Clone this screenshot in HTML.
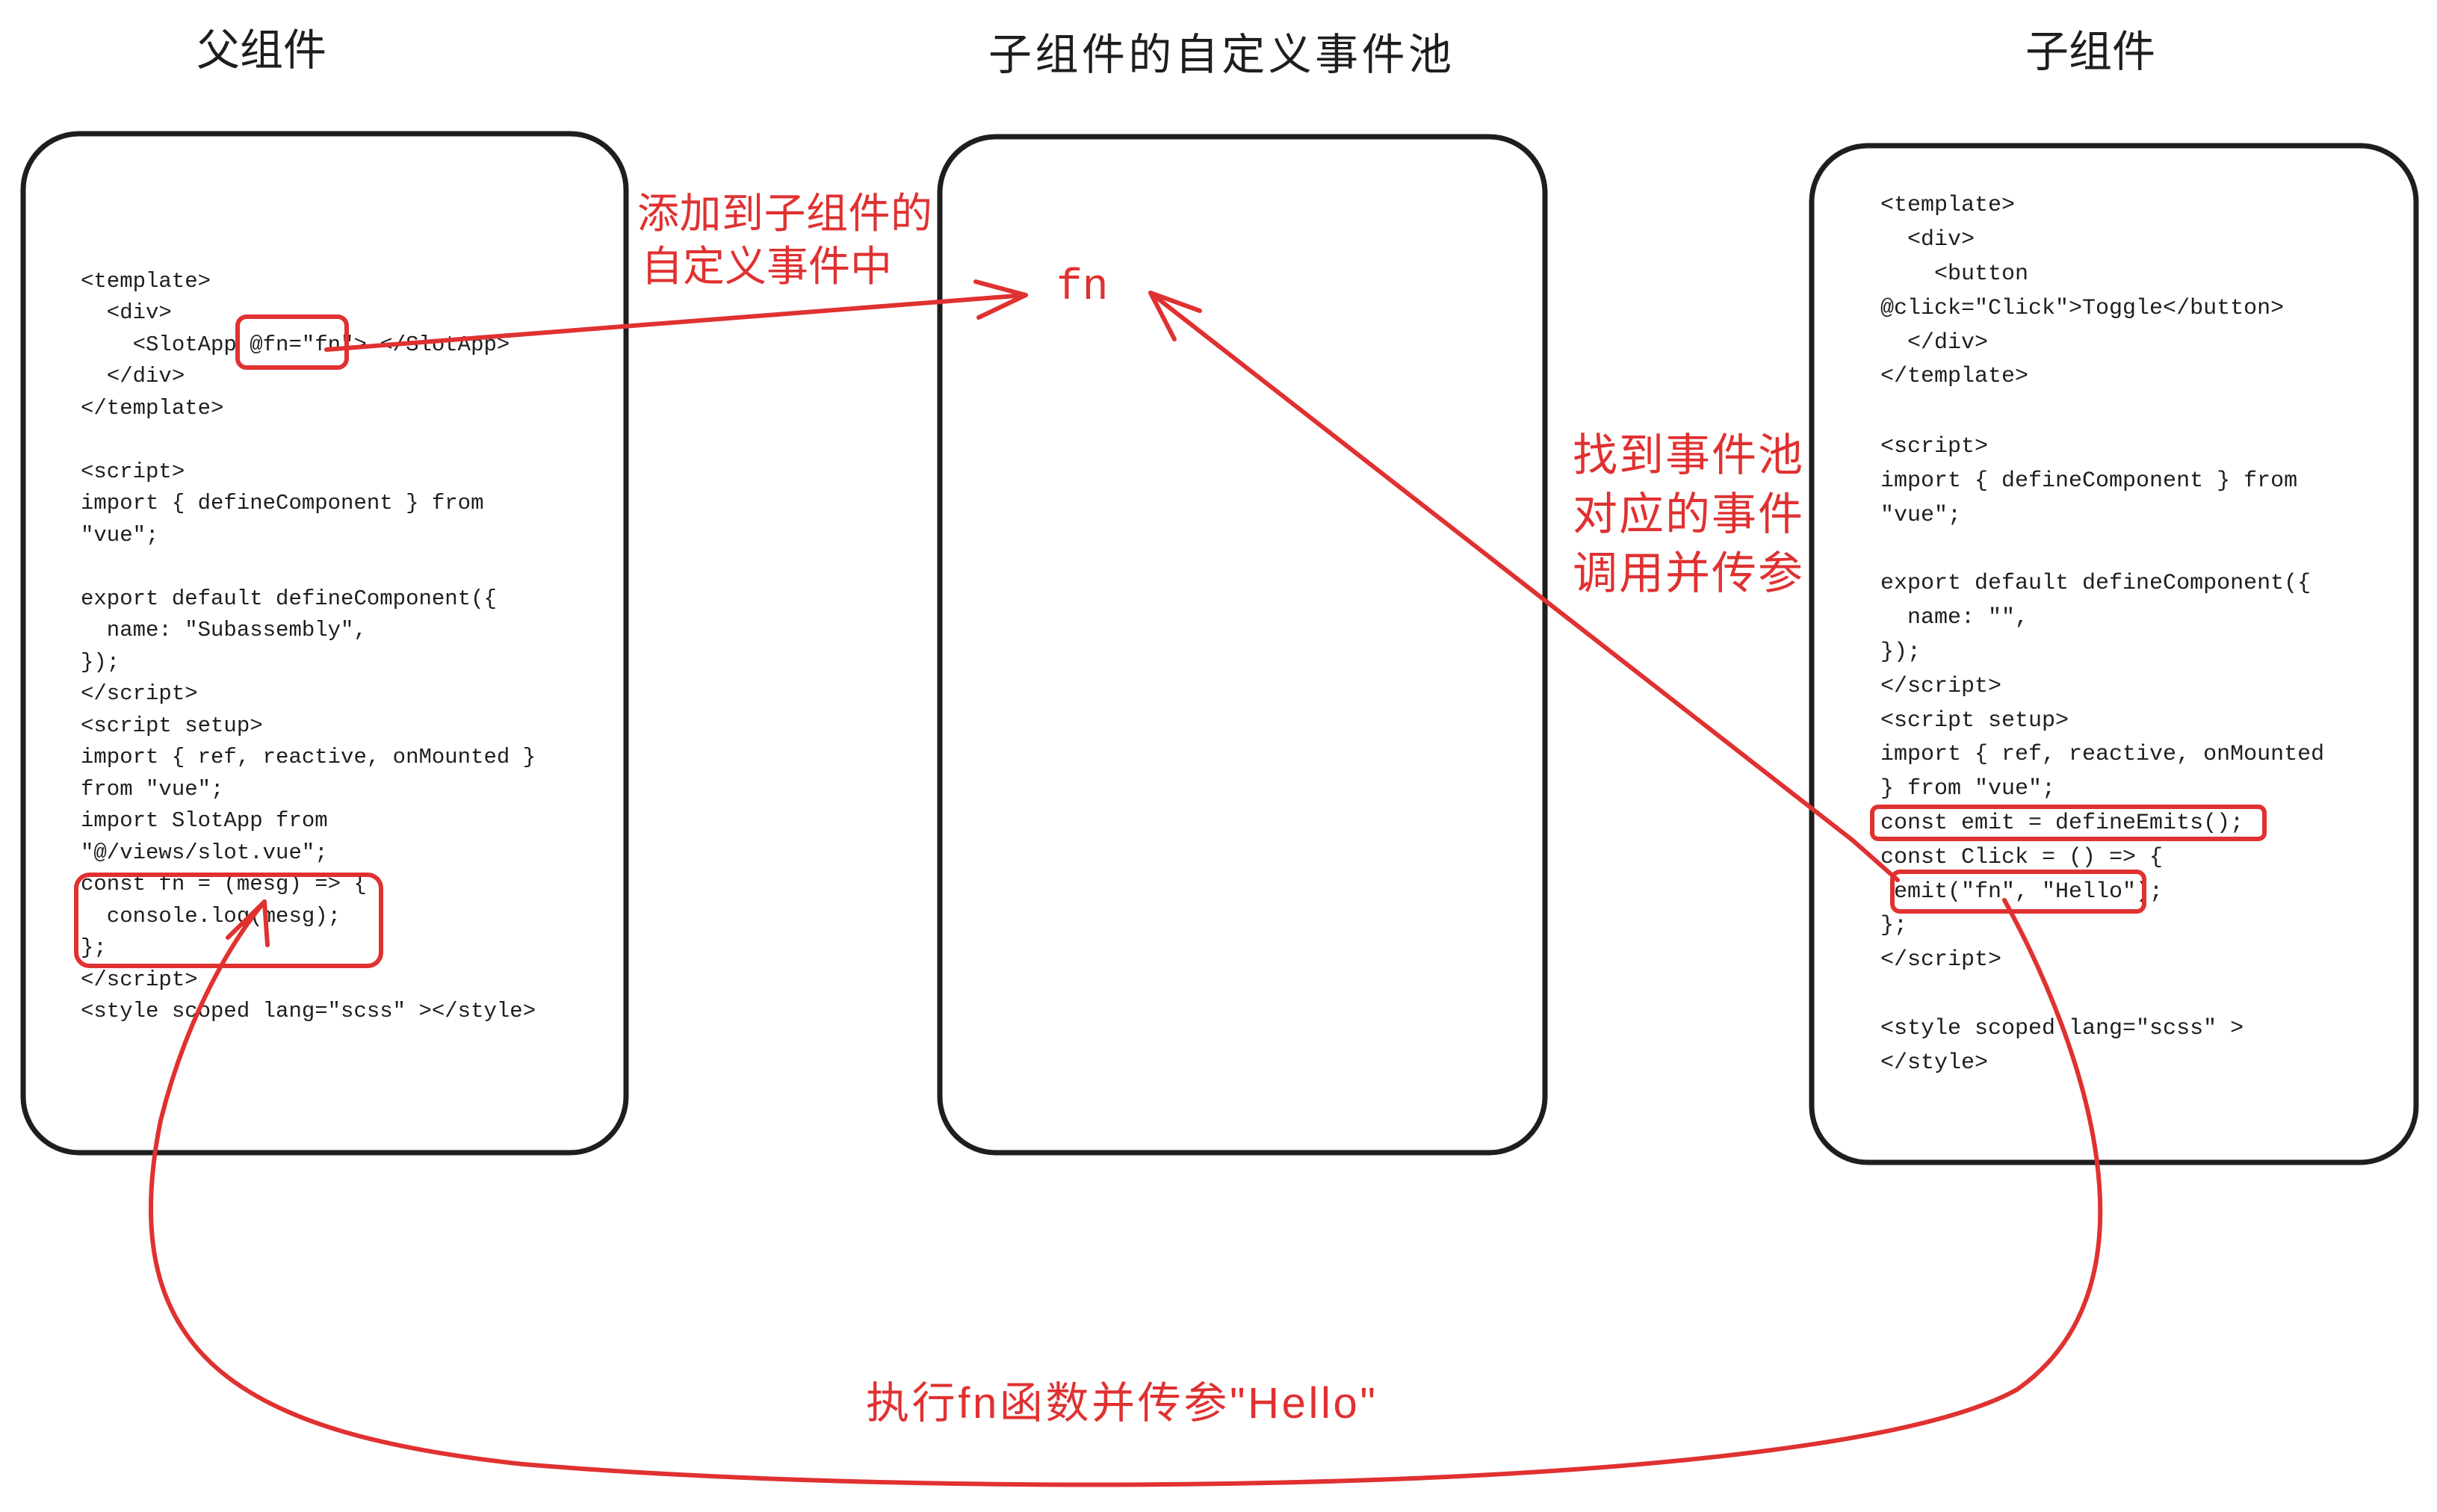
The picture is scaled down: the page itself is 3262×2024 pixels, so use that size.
<!DOCTYPE html>
<html><head><meta charset="utf-8"><style>
html,body{margin:0;padding:0;background:#fff;}
svg{display:block;}
.code{font-family:"Liberation Mono",monospace;fill:#1e1e1e;}
.cj{font-family:"Liberation Sans","Noto Sans CJK SC",sans-serif;}
</style></head><body>
<svg width="3262" height="2024" viewBox="0 0 3262 2024" xmlns="http://www.w3.org/2000/svg">
<rect width="3262" height="2024" fill="#fff"/>
<g class="cj" font-size="58" fill="#1e1e1e" text-anchor="middle">
<text x="350" y="87">父组件</text>
<text x="1633" y="93" textLength="620">子组件的自定义事件池</text>
<text x="2798" y="89">子组件</text>
</g>
<g fill="none" stroke="#1e1e1e" stroke-width="7">
<rect x="31" y="179" width="807" height="1364" rx="75"/>
<rect x="1258" y="183" width="810" height="1360" rx="75"/>
<rect x="2425" y="195" width="809" height="1361" rx="75"/>
</g>
<g class="code" font-size="29">
<text x="108" y="384">&lt;template&gt;</text>
<text x="108" y="426">&#160;&#160;&lt;div&gt;</text>
<text x="108" y="469">&#160;&#160;&#160;&#160;&lt;SlotApp @fn="fn"&gt; &lt;/SlotApp&gt;</text>
<text x="108" y="511">&#160;&#160;&lt;/div&gt;</text>
<text x="108" y="554">&lt;/template&gt;</text>
<text x="108" y="639">&lt;script&gt;</text>
<text x="108" y="681">import { defineComponent } from</text>
<text x="108" y="724">"vue";</text>
<text x="108" y="809">export default defineComponent({</text>
<text x="108" y="851">&#160;&#160;name: "Subassembly",</text>
<text x="108" y="894">});</text>
<text x="108" y="936">&lt;/script&gt;</text>
<text x="108" y="979">&lt;script setup&gt;</text>
<text x="108" y="1021">import { ref, reactive, onMounted }</text>
<text x="108" y="1064">from "vue";</text>
<text x="108" y="1106">import SlotApp from</text>
<text x="108" y="1149">"@/views/slot.vue";</text>
<text x="108" y="1191">const fn = (mesg) =&gt; {</text>
<text x="108" y="1234">&#160;&#160;console.log(mesg);</text>
<text x="108" y="1276">};</text>
<text x="108" y="1319">&lt;/script&gt;</text>
<text x="108" y="1361">&lt;style scoped lang="scss" &gt;&lt;/style&gt;</text>
</g>
<g class="code" font-size="30">
<text x="2517" y="282">&lt;template&gt;</text>
<text x="2517" y="328">&#160;&#160;&lt;div&gt;</text>
<text x="2517" y="374">&#160;&#160;&#160;&#160;&lt;button</text>
<text x="2517" y="420">@click="Click"&gt;Toggle&lt;/button&gt;</text>
<text x="2517" y="466">&#160;&#160;&lt;/div&gt;</text>
<text x="2517" y="511">&lt;/template&gt;</text>
<text x="2517" y="605">&lt;script&gt;</text>
<text x="2517" y="651">import { defineComponent } from</text>
<text x="2517" y="697">"vue";</text>
<text x="2517" y="788">export default defineComponent({</text>
<text x="2517" y="834">&#160;&#160;name: "",</text>
<text x="2517" y="880">});</text>
<text x="2517" y="926">&lt;/script&gt;</text>
<text x="2517" y="972">&lt;script setup&gt;</text>
<text x="2517" y="1017">import { ref, reactive, onMounted</text>
<text x="2517" y="1063">} from "vue";</text>
<text x="2517" y="1109">const emit = defineEmits();</text>
<text x="2517" y="1155">const Click = () =&gt; {</text>
<text x="2517" y="1201">&#160;emit("fn", "Hello");</text>
<text x="2517" y="1246">};</text>
<text x="2517" y="1292">&lt;/script&gt;</text>
<text x="2517" y="1384">&lt;style scoped lang="scss" &gt;</text>
<text x="2517" y="1430">&lt;/style&gt;</text>
</g>
<g fill="none" stroke="#e03131" stroke-width="6" stroke-linecap="round" stroke-linejoin="round">
<rect x="318" y="424" width="146" height="68" rx="12"/>
<rect x="102" y="1171" width="408" height="122" rx="18"/>
<rect x="2506" y="1080" width="525" height="43" rx="8"/>
<rect x="2533" y="1167" width="337" height="53" rx="10"/>
<path d="M437 468 L1373 395"/>
<path d="M1306 377 L1373 395 L1310 425"/>
<path d="M2540 1178 L2480 1125 L1540 392"/>
<path d="M1606 416 L1540 392 L1572 454"/>
<path d="M2683 1205 C2790 1400 2900 1720 2700 1860 C2450 2000 1300 2010 700 1960 C330 1920 150 1820 215 1500 C250 1360 310 1260 354 1207"/>
<path d="M305 1255 L354 1207 L358 1265"/>
</g>
<g class="cj" fill="#e03131">
<text x="853" y="305" font-size="56" textLength="395">添加到子组件的</text>
<text x="858" y="376" font-size="56">自定义事件中</text>
<text x="1414" y="400" font-size="58" font-family="Liberation Mono,monospace">fn</text>
<text x="2105" y="630" font-size="60" textLength="308">找到事件池</text>
<text x="2105" y="709" font-size="60" textLength="308">对应的事件</text>
<text x="2105" y="788" font-size="60" textLength="308">调用并传参</text>
<text x="1159" y="1898" font-size="58" textLength="682">执行fn函数并传参"Hello"</text>
</g>
</svg>
</body></html>
